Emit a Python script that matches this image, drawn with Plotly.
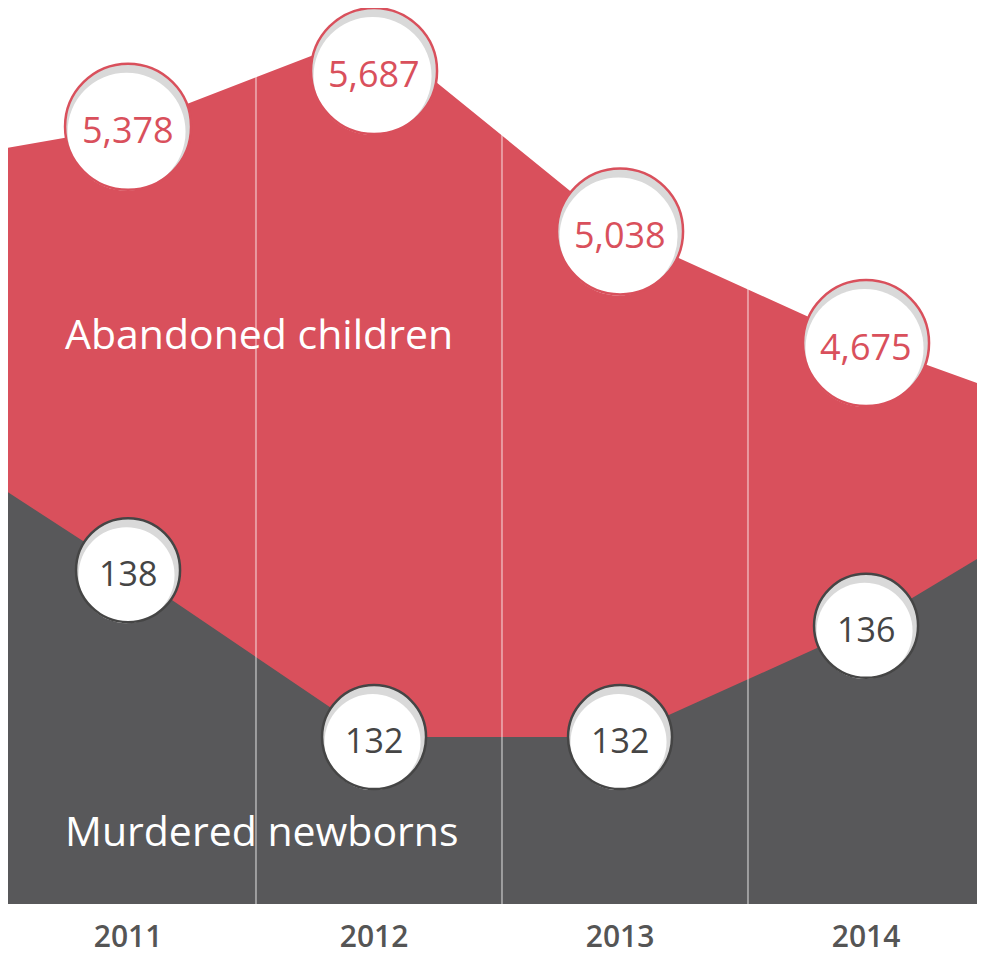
import plotly.graph_objects as go

# ---------------- data ----------------
years = [2011, 2012, 2013, 2014]
year_labels = ["2011", "2012", "2013", "2014"]
abandoned = [5378, 5687, 5038, 4675]      # Abandoned children
murdered = [138, 132, 132, 136]           # Murdered newborns
# where each outline leaves the picture at its left / right edge (estimated)
abandoned_edges = [5310, 4545]
murdered_edges = [140.8, 138.4]

# ---------------- styling / layout ----------------
# the page adds an 8px body margin, so the figure is sized to fit inside it
W, H = 969, 948
ML, MR, MT, MB = 0, 0, 0, 52
PLOT_H = H - MT - MB
X_RANGE = [2010.512, 2014.451]
AB_RANGE = [2852, 5764]
MU_RANGE = [126.0, 158.21]
RED = "#d9505c"
GREY = "#58585a"
FONT = "Open Sans"

xs = [X_RANGE[0]] + years + [X_RANGE[1]]

fig = go.Figure()
fig.add_trace(go.Scatter(
    x=xs, y=[abandoned_edges[0]] + abandoned + [abandoned_edges[1]],
    mode="lines", line=dict(width=0, color=RED), fill="tozeroy",
    fillcolor=RED, yaxis="y", hoverinfo="skip", showlegend=False))
fig.add_trace(go.Scatter(
    x=xs, y=[murdered_edges[0]] + murdered + [murdered_edges[1]],
    mode="lines", line=dict(width=0, color=GREY), fill="tozeroy",
    fillcolor=GREY, yaxis="y2", hoverinfo="skip", showlegend=False))

shapes = []
# column dividers between the years
for yr in years[:-1]:
    shapes.append(dict(type="line", xref="x", yref="paper", x0=yr + 0.52, x1=yr + 0.52,
                       y0=0, y1=1, layer="above",
                       line=dict(color="rgba(255,255,255,0.42)", width=2)))

annotations = []


def add_bubble(xv, yv, yref, rng, R, edge, txtcolor, fsize):
    px_top = (rng[1] - yv) / (rng[1] - rng[0]) * PLOT_H
    dy = min(0.0, px_top - R)   # keep the bubble inside the picture
    base = dict(type="circle", xref="x", yref=yref, xsizemode="pixel",
                ysizemode="pixel", xanchor=xv, yanchor=yv, layer="above")
    shapes.append(dict(base, x0=-R, x1=R, y0=dy - R, y1=dy + R,
                       fillcolor="#d9d9d9", line=dict(width=0)))
    r = R - 4
    shapes.append(dict(base, x0=-1.5 - r, x1=-1.5 + r, y0=dy - 5 - r, y1=dy - 5 + r,
                       fillcolor="#ffffff", line=dict(width=0)))
    shapes.append(dict(base, x0=-R, x1=R, y0=dy - R, y1=dy + R,
                       fillcolor="rgba(0,0,0,0)", line=dict(color=edge, width=2.5)))
    annotations.append(dict(x=xv, y=yv, xref="x", yref=yref, yshift=dy - 3,
                            text=f"{yv:,}", showarrow=False,
                            font=dict(family=FONT, size=fsize, color=txtcolor)))


for xv, v in zip(years, abandoned):
    add_bubble(xv, v, "y", AB_RANGE, 63, RED, RED, 36)
for xv, v in zip(years, murdered):
    add_bubble(xv, v, "y2", MU_RANGE, 52, "#454545", "#454545", 34)

annotations.append(dict(x=0.0568, y=0.637, xref="paper", yref="paper",
                        xanchor="left", yanchor="middle",
                        text="Abandoned children", showarrow=False,
                        font=dict(family=FONT, size=41, color="#ffffff")))
annotations.append(dict(x=0.0568, y=0.0826, xref="paper", yref="paper",
                        xanchor="left", yanchor="middle",
                        text="Murdered newborns", showarrow=False,
                        font=dict(family=FONT, size=41, color="#ffffff")))

fig.update_layout(
    width=W, height=H,
    margin=dict(l=ML, r=MR, t=MT, b=MB, pad=0),
    paper_bgcolor="#ffffff", plot_bgcolor="#ffffff",
    showlegend=False,
    xaxis=dict(range=X_RANGE, tickmode="array", tickvals=years, ticktext=year_labels,
               showgrid=False, zeroline=False, showline=False, ticks="",
               automargin=False, ticklabelstandoff=12,
               tickfont=dict(family=FONT, size=30, color="#555555", weight=600)),
    yaxis=dict(range=AB_RANGE, visible=False, showgrid=False, zeroline=False),
    yaxis2=dict(range=MU_RANGE, visible=False, showgrid=False, zeroline=False,
                overlaying="y", side="right"),
    shapes=shapes,
    annotations=annotations,
)

fig.write_html("out.html")
